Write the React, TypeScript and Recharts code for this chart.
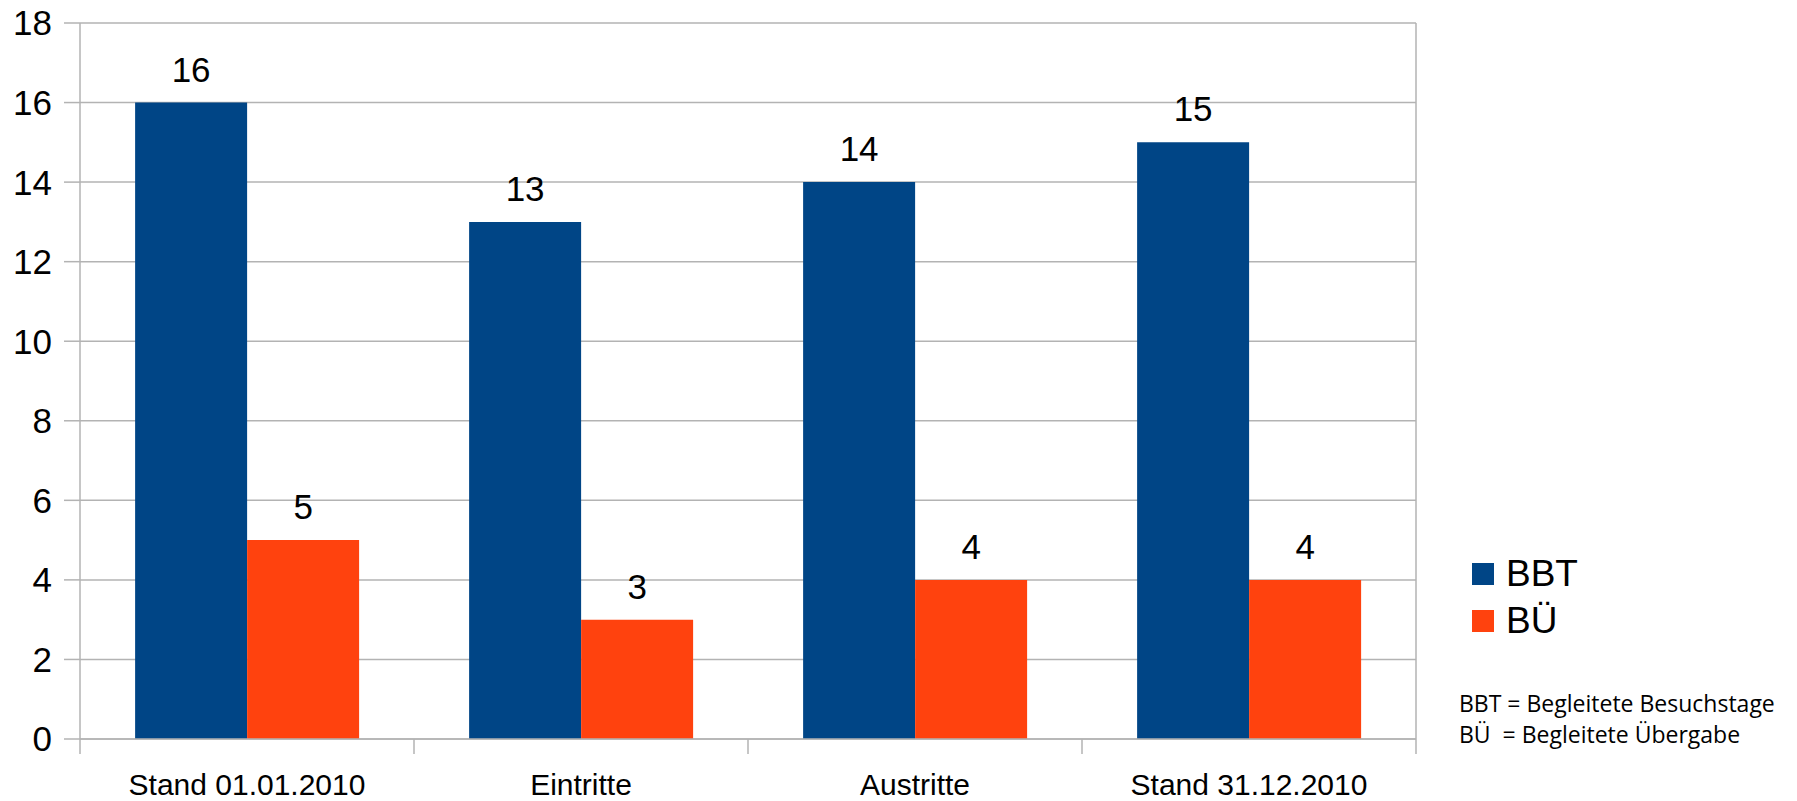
import React from 'react';
import { Bar, BarChart, CartesianGrid, LabelList, Legend, XAxis, YAxis } from 'recharts';

const categories = ['Stand 01.01.2010', 'Eintritte', 'Austritte', 'Stand 31.12.2010'];
const bbt = [16, 13, 14, 15];
const bue = [5, 3, 4, 4];
const yTicks = [0, 2, 4, 6, 8, 10, 12, 14, 16, 18];

const data = categories.map((name, i) => ({ name, BBT: bbt[i], BÜ: bue[i] }));

const W = 1797;
const H = 801;
const margin = { top: 23, right: 381, left: 0, bottom: 0 };
const Y_AXIS_W = 80;
const PLOT_W = W - margin.right - margin.left - Y_AXIS_W;
const BAND = PLOT_W / categories.length;
const GRID = '#b3b3b3';

function CategoryTick(props: any) {
  const { x, y, payload, index } = props;
  const left = x - BAND / 2;
  return (
    <g>
      <line x1={left} x2={left} y1={y} y2={y + 15} stroke={GRID} strokeWidth={1.5} />
      {index === categories.length - 1 && (
        <line x1={left + BAND} x2={left + BAND} y1={y} y2={y + 15} stroke={GRID} strokeWidth={1.5} />
      )}
      <text x={x} y={y + 56} textAnchor="middle" fontSize={30} fill="#000">
        {payload.value}
      </text>
    </g>
  );
}

function LegendBox(props: any) {
  const { payload } = props;
  return (
    <div>
      {payload.map((entry: any) => (
        <div key={entry.value} style={{ display: 'flex', alignItems: 'center', height: 47 }}>
          <span style={{ width: 22, height: 22, background: entry.color, display: 'inline-block', marginRight: 12 }} />
          <span style={{ fontSize: 37, color: '#000', lineHeight: '47px' }}>{entry.value}</span>
        </div>
      ))}
    </div>
  );
}

export default function App() {
  return (
    <div style={{ position: 'absolute', left: 0, top: 0, width: W, height: H, background: '#fff', fontFamily: '"Liberation Sans", Arial, sans-serif' }}>
      <BarChart width={W} height={H} data={data} margin={margin} barCategoryGap="16.5%" barGap={0}>
        <CartesianGrid
          stroke={GRID}
          strokeWidth={1.5}
          verticalCoordinatesGenerator={({ offset }: any) => [offset.left + offset.width]}
        />
        <XAxis
          dataKey="name"
          height={H - 739}
          tickLine={false}
          tickSize={0}
          tickMargin={0}
          axisLine={{ stroke: GRID, strokeWidth: 1.5 }}
          tick={<CategoryTick />}
          interval={0}
        />
        <YAxis
          width={Y_AXIS_W}
          domain={[0, 18]}
          ticks={yTicks}
          interval={0}
          tickSize={16}
          tickMargin={12}
          tickLine={{ stroke: GRID, strokeWidth: 1.5 }}
          axisLine={{ stroke: GRID, strokeWidth: 1.5 }}
          tick={{ fill: '#000', fontSize: 35 }}
        />
        <Legend
          layout="horizontal"
          verticalAlign="middle"
          align="center"
          content={<LegendBox />}
          wrapperStyle={{ position: 'absolute', left: 1472, top: 550, width: 200, height: 94 }}
        />
        <Bar dataKey="BBT" fill="#004586" isAnimationActive={false}>
          <LabelList dataKey="BBT" position="top" offset={21} fontSize={35} fill="#000" />
        </Bar>
        <Bar dataKey="BÜ" fill="#ff420e" isAnimationActive={false}>
          <LabelList dataKey="BÜ" position="top" offset={21} fontSize={35} fill="#000" />
        </Bar>
      </BarChart>
      <div
        style={{
          position: 'absolute',
          left: 1459,
          top: 688,
          fontFamily: '"Open Sans", sans-serif',
          fontSize: 23,
          lineHeight: '31px',
          color: '#000',
          whiteSpace: 'pre',
        }}
      >
        <div>BBT = Begleitete Besuchstage</div>
        <div>BÜ  = Begleitete Übergabe</div>
      </div>
    </div>
  );
}
